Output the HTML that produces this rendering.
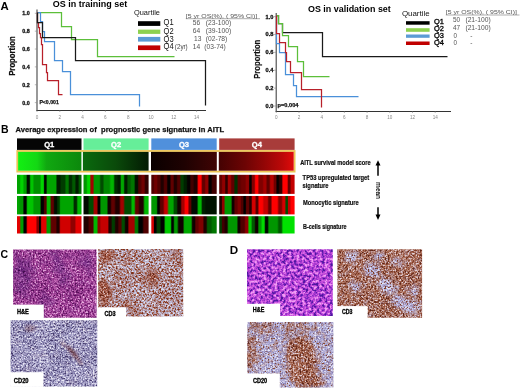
<!DOCTYPE html>
<html><head><meta charset="utf-8"><style>
html,body{margin:0;padding:0;background:#fff;width:520px;height:388px;overflow:hidden}
svg{display:block;font-family:'Liberation Sans', sans-serif;will-change:transform}
</style></head><body>
<svg width="520" height="388" viewBox="0 0 520 388">
<rect width="520" height="388" fill="#fff"/>
<text x="0.6" y="9.5" font-size="11.6" font-weight="bold" fill="#000" text-anchor="start" textLength="8.2" lengthAdjust="spacingAndGlyphs" >A</text>
<text x="52.8" y="6.6" font-size="9" font-weight="bold" fill="#000" text-anchor="start" textLength="74.4" lengthAdjust="spacingAndGlyphs" >OS in training set</text>
<text x="308" y="11.9" font-size="9" font-weight="bold" fill="#000" text-anchor="start" textLength="82.8" lengthAdjust="spacingAndGlyphs" >OS in validation set</text>
<line x1="37" y1="9.5" x2="37" y2="110.9" stroke="#444" stroke-width="1.1"/>
<line x1="36.5" y1="110.5" x2="206" y2="110.5" stroke="#333" stroke-width="1.1"/>
<text x="22.3" y="15.3" font-size="5.8" font-weight="bold" fill="#111" text-anchor="start" textLength="7.5" lengthAdjust="spacingAndGlyphs" stroke="#111" stroke-width="0.3">1.0</text>
<line x1="34.8" y1="13.30" x2="37" y2="13.30" stroke="#888" stroke-width="0.6"/>
<text x="22.3" y="33.16" font-size="5.8" font-weight="bold" fill="#111" text-anchor="start" textLength="7.5" lengthAdjust="spacingAndGlyphs" stroke="#111" stroke-width="0.3">0.8</text>
<line x1="34.8" y1="31.16" x2="37" y2="31.16" stroke="#888" stroke-width="0.6"/>
<text x="22.3" y="51.019999999999996" font-size="5.8" font-weight="bold" fill="#111" text-anchor="start" textLength="7.5" lengthAdjust="spacingAndGlyphs" stroke="#111" stroke-width="0.3">0.6</text>
<line x1="34.8" y1="49.02" x2="37" y2="49.02" stroke="#888" stroke-width="0.6"/>
<text x="22.3" y="68.88" font-size="5.8" font-weight="bold" fill="#111" text-anchor="start" textLength="7.5" lengthAdjust="spacingAndGlyphs" stroke="#111" stroke-width="0.3">0.4</text>
<line x1="34.8" y1="66.88" x2="37" y2="66.88" stroke="#888" stroke-width="0.6"/>
<text x="22.3" y="86.74" font-size="5.8" font-weight="bold" fill="#111" text-anchor="start" textLength="7.5" lengthAdjust="spacingAndGlyphs" stroke="#111" stroke-width="0.3">0.2</text>
<line x1="34.8" y1="84.74" x2="37" y2="84.74" stroke="#888" stroke-width="0.6"/>
<text x="22.3" y="104.6" font-size="5.8" font-weight="bold" fill="#111" text-anchor="start" textLength="7.5" lengthAdjust="spacingAndGlyphs" stroke="#111" stroke-width="0.3">0.0</text>
<line x1="34.8" y1="102.60" x2="37" y2="102.60" stroke="#888" stroke-width="0.6"/>
<text x="37.0" y="118.6" font-size="4.6" font-weight="normal" fill="#888" text-anchor="middle" >0</text>
<line x1="37.00" y1="110.4" x2="37.00" y2="112" stroke="#888" stroke-width="0.6"/>
<text x="59.8" y="118.6" font-size="4.6" font-weight="normal" fill="#888" text-anchor="middle" >2</text>
<line x1="59.80" y1="110.4" x2="59.80" y2="112" stroke="#888" stroke-width="0.6"/>
<text x="82.6" y="118.6" font-size="4.6" font-weight="normal" fill="#888" text-anchor="middle" >4</text>
<line x1="82.60" y1="110.4" x2="82.60" y2="112" stroke="#888" stroke-width="0.6"/>
<text x="105.4" y="118.6" font-size="4.6" font-weight="normal" fill="#888" text-anchor="middle" >6</text>
<line x1="105.40" y1="110.4" x2="105.40" y2="112" stroke="#888" stroke-width="0.6"/>
<text x="128.2" y="118.6" font-size="4.6" font-weight="normal" fill="#888" text-anchor="middle" >8</text>
<line x1="128.20" y1="110.4" x2="128.20" y2="112" stroke="#888" stroke-width="0.6"/>
<text x="151.0" y="118.6" font-size="4.6" font-weight="normal" fill="#888" text-anchor="middle" >10</text>
<line x1="151.00" y1="110.4" x2="151.00" y2="112" stroke="#888" stroke-width="0.6"/>
<text x="173.8" y="118.6" font-size="4.6" font-weight="normal" fill="#888" text-anchor="middle" >12</text>
<line x1="173.80" y1="110.4" x2="173.80" y2="112" stroke="#888" stroke-width="0.6"/>
<text x="196.6" y="118.6" font-size="4.6" font-weight="normal" fill="#888" text-anchor="middle" >14</text>
<line x1="196.60" y1="110.4" x2="196.60" y2="112" stroke="#888" stroke-width="0.6"/>
<text x="0" y="0" font-size="8.6" font-weight="bold" fill="#111" stroke="#111" stroke-width="0.2" textLength="39.6" lengthAdjust="spacingAndGlyphs" transform="translate(15.3,75.8) rotate(-90)">Proportion</text>
<text x="0" y="0" font-size="8.6" font-weight="bold" fill="#111" stroke="#111" stroke-width="0.2" textLength="39.1" lengthAdjust="spacingAndGlyphs" transform="translate(260.4,78.8) rotate(-90)">Proportion</text>
<polyline points="37.5,12.5 61.5,12.5 61.5,26.5 71.5,26.5 71.5,39.5 97.5,39.5 97.5,56.5 174.5,56.5" fill="none" stroke="#5cbf3a" stroke-width="1.25" stroke-linejoin="miter"/>
<polyline points="37.5,12.5 40.5,12.5 40.5,21.5 42.5,21.5 42.5,31.5 44.5,31.5 44.5,41.5 54.5,41.5 54.5,60.5 62.5,60.5 62.5,71.5 70.5,71.5 70.5,94.5 139.5,94.5 139.5,106.5" fill="none" stroke="#4a90d9" stroke-width="1.25" stroke-linejoin="miter"/>
<polyline points="37.5,12.5 37.5,22.5 38.5,22.5 38.5,27.5 39.5,27.5 39.5,33.5 40.5,33.5 40.5,37.5 41.5,37.5 41.5,44.5 42.5,44.5 42.5,64.5 46.5,64.5 46.5,72.5 47.5,72.5 47.5,80.5 58.5,80.5 58.5,94.5 62.5,94.5" fill="none" stroke="#b8202a" stroke-width="1.25" stroke-linejoin="miter"/>
<polyline points="37.5,12.5 37.5,12.5 37.5,22.5 42.5,22.5 42.5,37.5 75.5,37.5 75.5,60.5 205.5,60.5 205.5,105.5" fill="none" stroke="#1a1a1a" stroke-width="1.25" stroke-linejoin="miter"/>
<text x="39.4" y="103.7" font-size="5.6" font-weight="bold" fill="#111" text-anchor="start" textLength="19.4" lengthAdjust="spacingAndGlyphs" stroke="#111" stroke-width="0.25">P&lt;0.001</text>
<text x="134" y="14.7" font-size="7.2" font-weight="normal" fill="#111" text-anchor="start" textLength="25.9" lengthAdjust="spacingAndGlyphs" >Quartile</text>
<rect x="138" y="21.2" width="22.3" height="4.7" fill="#000"/>
<rect x="138" y="29.6" width="22.3" height="4.3" fill="#8ed14f"/>
<rect x="138" y="36.9" width="22.3" height="4.7" fill="#5b9bd5"/>
<rect x="138" y="45.4" width="22.3" height="4.7" fill="#c00000"/>
<text x="163.6" y="25.4" font-size="8.4" font-weight="normal" fill="#111" text-anchor="start" textLength="10.1" lengthAdjust="spacingAndGlyphs" >Q1</text>
<text x="163.6" y="33.5" font-size="8.4" font-weight="normal" fill="#111" text-anchor="start" textLength="10.1" lengthAdjust="spacingAndGlyphs" >Q2</text>
<text x="163.6" y="41.5" font-size="8.4" font-weight="normal" fill="#111" text-anchor="start" textLength="10.1" lengthAdjust="spacingAndGlyphs" >Q3</text>
<text x="163.6" y="49.4" font-size="8.4" font-weight="normal" fill="#111" text-anchor="start" textLength="10.1" lengthAdjust="spacingAndGlyphs" >Q4</text>
<text x="174.8" y="49.4" font-size="7.6" font-weight="normal" fill="#444" text-anchor="start" textLength="12.9" lengthAdjust="spacingAndGlyphs" >(2yr)</text>
<text x="185.8" y="17.6" font-size="6.2" font-weight="normal" fill="#555" text-anchor="start" textLength="71.5" lengthAdjust="spacingAndGlyphs" >[5 yr  OS(%),  ( 95% CI)]</text>
<line x1="185.8" y1="18.7" x2="260" y2="18.7" stroke="#777" stroke-width="0.6"/>
<text x="192.7" y="25.4" font-size="6.3" font-weight="normal" fill="#555" text-anchor="start" textLength="7.4" lengthAdjust="spacingAndGlyphs" >56</text>
<text x="205.8" y="25.4" font-size="6.3" font-weight="normal" fill="#555" text-anchor="start" textLength="25.4" lengthAdjust="spacingAndGlyphs" >(23-100)</text>
<text x="192.7" y="33.4" font-size="6.3" font-weight="normal" fill="#555" text-anchor="start" textLength="7.4" lengthAdjust="spacingAndGlyphs" >64</text>
<text x="205.8" y="33.4" font-size="6.3" font-weight="normal" fill="#555" text-anchor="start" textLength="25.4" lengthAdjust="spacingAndGlyphs" >(39-100)</text>
<text x="194.0" y="41.2" font-size="6.3" font-weight="normal" fill="#555" text-anchor="start" textLength="7.4" lengthAdjust="spacingAndGlyphs" >13</text>
<text x="205.8" y="41.2" font-size="6.3" font-weight="normal" fill="#555" text-anchor="start" textLength="21.5" lengthAdjust="spacingAndGlyphs" >(02-78)</text>
<text x="192.7" y="48.9" font-size="6.3" font-weight="normal" fill="#555" text-anchor="start" textLength="7.4" lengthAdjust="spacingAndGlyphs" >14</text>
<text x="204.3" y="48.9" font-size="6.3" font-weight="normal" fill="#555" text-anchor="start" textLength="21.5" lengthAdjust="spacingAndGlyphs" >(03-74)</text>
<line x1="276.2" y1="13.1" x2="276.2" y2="111.9" stroke="#444" stroke-width="1.1"/>
<line x1="275.7" y1="111.5" x2="451" y2="111.5" stroke="#333" stroke-width="1.1"/>
<text x="265.6" y="18.6" font-size="5.8" font-weight="bold" fill="#111" text-anchor="start" textLength="7.9" lengthAdjust="spacingAndGlyphs" stroke="#111" stroke-width="0.3">1.0</text>
<line x1="274" y1="16.60" x2="276.2" y2="16.60" stroke="#888" stroke-width="0.6"/>
<text x="265.6" y="36.480000000000004" font-size="5.8" font-weight="bold" fill="#111" text-anchor="start" textLength="7.9" lengthAdjust="spacingAndGlyphs" stroke="#111" stroke-width="0.3">0.8</text>
<line x1="274" y1="34.48" x2="276.2" y2="34.48" stroke="#888" stroke-width="0.6"/>
<text x="265.6" y="54.36" font-size="5.8" font-weight="bold" fill="#111" text-anchor="start" textLength="7.9" lengthAdjust="spacingAndGlyphs" stroke="#111" stroke-width="0.3">0.6</text>
<line x1="274" y1="52.36" x2="276.2" y2="52.36" stroke="#888" stroke-width="0.6"/>
<text x="265.6" y="72.24000000000001" font-size="5.8" font-weight="bold" fill="#111" text-anchor="start" textLength="7.9" lengthAdjust="spacingAndGlyphs" stroke="#111" stroke-width="0.3">0.4</text>
<line x1="274" y1="70.24" x2="276.2" y2="70.24" stroke="#888" stroke-width="0.6"/>
<text x="265.6" y="90.12" font-size="5.8" font-weight="bold" fill="#111" text-anchor="start" textLength="7.9" lengthAdjust="spacingAndGlyphs" stroke="#111" stroke-width="0.3">0.2</text>
<line x1="274" y1="88.12" x2="276.2" y2="88.12" stroke="#888" stroke-width="0.6"/>
<text x="265.6" y="108.0" font-size="5.8" font-weight="bold" fill="#111" text-anchor="start" textLength="7.9" lengthAdjust="spacingAndGlyphs" stroke="#111" stroke-width="0.3">0.0</text>
<line x1="274" y1="106.00" x2="276.2" y2="106.00" stroke="#888" stroke-width="0.6"/>
<text x="276.3" y="119" font-size="4.6" font-weight="normal" fill="#888" text-anchor="middle" >0</text>
<line x1="276.30" y1="111.4" x2="276.30" y2="113" stroke="#888" stroke-width="0.6"/>
<text x="299.0" y="119" font-size="4.6" font-weight="normal" fill="#888" text-anchor="middle" >2</text>
<line x1="299.00" y1="111.4" x2="299.00" y2="113" stroke="#888" stroke-width="0.6"/>
<text x="321.7" y="119" font-size="4.6" font-weight="normal" fill="#888" text-anchor="middle" >4</text>
<line x1="321.70" y1="111.4" x2="321.70" y2="113" stroke="#888" stroke-width="0.6"/>
<text x="344.4" y="119" font-size="4.6" font-weight="normal" fill="#888" text-anchor="middle" >6</text>
<line x1="344.40" y1="111.4" x2="344.40" y2="113" stroke="#888" stroke-width="0.6"/>
<text x="367.1" y="119" font-size="4.6" font-weight="normal" fill="#888" text-anchor="middle" >8</text>
<line x1="367.10" y1="111.4" x2="367.10" y2="113" stroke="#888" stroke-width="0.6"/>
<text x="389.8" y="119" font-size="4.6" font-weight="normal" fill="#888" text-anchor="middle" >10</text>
<line x1="389.80" y1="111.4" x2="389.80" y2="113" stroke="#888" stroke-width="0.6"/>
<text x="412.5" y="119" font-size="4.6" font-weight="normal" fill="#888" text-anchor="middle" >12</text>
<line x1="412.50" y1="111.4" x2="412.50" y2="113" stroke="#888" stroke-width="0.6"/>
<text x="435.20000000000005" y="119" font-size="4.6" font-weight="normal" fill="#888" text-anchor="middle" >14</text>
<line x1="435.20" y1="111.4" x2="435.20" y2="113" stroke="#888" stroke-width="0.6"/>
<polyline points="276.5,15.5 278.5,15.5 278.5,23.5 282.5,23.5 282.5,32.5 322.5,32.5 322.5,56.5 447.5,56.5" fill="none" stroke="#1a1a1a" stroke-width="1.25" stroke-linejoin="miter"/>
<polyline points="276.5,15.5 276.5,43.5 279.5,43.5 279.5,52.5 285.5,52.5 285.5,74.5 293.5,74.5 293.5,85.5 296.5,85.5 296.5,96.5 358.5,96.5" fill="none" stroke="#4a90d9" stroke-width="1.25" stroke-linejoin="miter"/>
<polyline points="276.5,15.5 278.5,15.5 278.5,23.5 282.5,23.5 282.5,35.5 288.5,35.5 288.5,46.5 297.5,46.5 297.5,61.5 303.5,61.5 303.5,76.5 329.5,76.5" fill="none" stroke="#5cbf3a" stroke-width="1.25" stroke-linejoin="miter"/>
<polyline points="276.5,15.5 276.5,33.5 279.5,33.5 279.5,42.5 285.5,42.5 285.5,52.5 286.5,52.5 286.5,61.5 290.5,61.5 290.5,72.5 301.5,72.5 301.5,89.5 321.5,89.5 321.5,107.5" fill="none" stroke="#b8202a" stroke-width="1.25" stroke-linejoin="miter"/>
<text x="277.6" y="107.3" font-size="5.6" font-weight="bold" fill="#111" text-anchor="start" textLength="20.8" lengthAdjust="spacingAndGlyphs" stroke="#111" stroke-width="0.25">p=0.004</text>
<text x="401.9" y="15.5" font-size="7.6" font-weight="normal" fill="#111" text-anchor="start" textLength="27.7" lengthAdjust="spacingAndGlyphs" >Quartile</text>
<rect x="406" y="21.2" width="23.6" height="3.5" fill="#000"/>
<rect x="406" y="28.2" width="23.6" height="3.6" fill="#8ed14f"/>
<rect x="406" y="34.5" width="23.6" height="3.3" fill="#5b9bd5"/>
<rect x="406" y="41.5" width="23.6" height="3.5" fill="#c00000"/>
<text x="434.0" y="24.400000000000002" font-size="7.0" font-weight="normal" fill="#000" text-anchor="start" textLength="9.9" lengthAdjust="spacingAndGlyphs" stroke="#000" stroke-width="0.3">Q1</text>
<text x="434.0" y="31.400000000000002" font-size="7.0" font-weight="normal" fill="#000" text-anchor="start" textLength="9.9" lengthAdjust="spacingAndGlyphs" stroke="#000" stroke-width="0.3">Q2</text>
<text x="434.0" y="38.199999999999996" font-size="7.0" font-weight="normal" fill="#000" text-anchor="start" textLength="9.9" lengthAdjust="spacingAndGlyphs" stroke="#000" stroke-width="0.3">Q3</text>
<text x="434.0" y="44.699999999999996" font-size="7.0" font-weight="normal" fill="#000" text-anchor="start" textLength="9.9" lengthAdjust="spacingAndGlyphs" stroke="#000" stroke-width="0.3">Q4</text>
<text x="445.8" y="13.9" font-size="6.2" font-weight="normal" fill="#555" text-anchor="start" textLength="71.2" lengthAdjust="spacingAndGlyphs" >[5 yr  OS(%),  ( 95% CI)]</text>
<line x1="445.8" y1="15.0" x2="519.5" y2="15.0" stroke="#777" stroke-width="0.6"/>
<text x="453.0" y="21.7" font-size="6.3" font-weight="normal" fill="#555" text-anchor="start" textLength="7.2" lengthAdjust="spacingAndGlyphs" >50</text>
<text x="465.4" y="21.7" font-size="6.3" font-weight="normal" fill="#555" text-anchor="start" textLength="25.4" lengthAdjust="spacingAndGlyphs" >(21-100)</text>
<text x="453.0" y="29.9" font-size="6.3" font-weight="normal" fill="#555" text-anchor="start" textLength="7.2" lengthAdjust="spacingAndGlyphs" >47</text>
<text x="465.4" y="29.9" font-size="6.3" font-weight="normal" fill="#555" text-anchor="start" textLength="25.4" lengthAdjust="spacingAndGlyphs" >(21-100)</text>
<text x="453.5" y="37.6" font-size="6.3" font-weight="normal" fill="#555" text-anchor="start" textLength="3.5" lengthAdjust="spacingAndGlyphs" >0</text>
<text x="470.2" y="37.6" font-size="6.3" font-weight="normal" fill="#555" text-anchor="start" textLength="2.2" lengthAdjust="spacingAndGlyphs" >-</text>
<text x="453.5" y="45.0" font-size="6.3" font-weight="normal" fill="#555" text-anchor="start" textLength="3.5" lengthAdjust="spacingAndGlyphs" >0</text>
<text x="470.2" y="45.0" font-size="6.3" font-weight="normal" fill="#555" text-anchor="start" textLength="2.2" lengthAdjust="spacingAndGlyphs" >-</text>
<text x="0.9" y="133.4" font-size="10.6" font-weight="bold" fill="#000" text-anchor="start" textLength="7.6" lengthAdjust="spacingAndGlyphs" >B</text>
<text x="15.5" y="132.1" font-size="7.9" font-weight="bold" fill="#111" text-anchor="start" textLength="208.6" lengthAdjust="spacingAndGlyphs" stroke="#111" stroke-width="0.25">Average expression of  prognostic gene signature in AITL</text>
<rect x="17.0" y="138.4" width="64.5" height="11.5" fill="#050505"/>
<text x="49.25" y="147.2" font-size="7.6" font-weight="bold" fill="#fff" text-anchor="middle" stroke="#fff" stroke-width="0.3">Q1</text>
<rect x="83.5" y="138.4" width="65.1" height="11.5" fill="#66ee99"/>
<text x="116.05" y="147.2" font-size="7.6" font-weight="bold" fill="#fff" text-anchor="middle" stroke="#fff" stroke-width="0.3">Q2</text>
<rect x="151.3" y="138.4" width="65.4" height="11.5" fill="#5090dc"/>
<text x="184.0" y="147.2" font-size="7.6" font-weight="bold" fill="#fff" text-anchor="middle" stroke="#fff" stroke-width="0.3">Q3</text>
<rect x="219.2" y="138.4" width="75.4" height="11.5" fill="#a83c3a"/>
<text x="256.9" y="147.2" font-size="7.6" font-weight="bold" fill="#fff" text-anchor="middle" stroke="#fff" stroke-width="0.3">Q4</text>
<defs>
<linearGradient id="g1" x1="0" x2="1"><stop offset="0" stop-color="#12f012"/><stop offset="0.3" stop-color="#14d814"/><stop offset="0.45" stop-color="#10a810"/><stop offset="1" stop-color="#0c880c"/></linearGradient>
<linearGradient id="g2" x1="0" x2="1"><stop offset="0" stop-color="#0a6a0e"/><stop offset="0.5" stop-color="#0a4a0a"/><stop offset="1" stop-color="#031a03"/></linearGradient>
<linearGradient id="g3" x1="0" x2="1"><stop offset="0" stop-color="#0a0000"/><stop offset="0.5" stop-color="#1e0202"/><stop offset="1" stop-color="#400404"/></linearGradient>
<linearGradient id="g4" x1="0" x2="1"><stop offset="0" stop-color="#440202"/><stop offset="0.35" stop-color="#6c0404"/><stop offset="0.6" stop-color="#920606"/><stop offset="0.85" stop-color="#bc0808"/><stop offset="1" stop-color="#e00a0a"/></linearGradient>
</defs>
<rect x="16.4" y="150.1" width="279.1" height="22.4" fill="#ecc452"/>
<rect x="18.1" y="151.9" width="275.6" height="18.8" fill="#fff"/>
<rect x="18.1" y="151.9" width="63.3" height="18.8" fill="url(#g1)"/>
<rect x="82.9" y="151.9" width="65.7" height="18.8" fill="url(#g2)"/>
<rect x="151.0" y="151.9" width="65.8" height="18.8" fill="url(#g3)"/>
<rect x="218.8" y="151.9" width="74.9" height="18.8" fill="url(#g4)"/>
<defs><linearGradient id="hs1" x1="0" x2="1"><stop offset="0.0107" stop-color="#00a300"/><stop offset="0.0378" stop-color="#00a300"/><stop offset="0.0597" stop-color="#00d300"/><stop offset="0.0884" stop-color="#00d300"/><stop offset="0.1109" stop-color="#009d00"/><stop offset="0.1395" stop-color="#009d00"/><stop offset="0.1620" stop-color="#000e00"/><stop offset="0.1907" stop-color="#000e00"/><stop offset="0.2132" stop-color="#00c400"/><stop offset="0.2419" stop-color="#00c400"/><stop offset="0.2671" stop-color="#008f00"/><stop offset="0.3543" stop-color="#008f00"/><stop offset="0.3795" stop-color="#00d600"/><stop offset="0.4082" stop-color="#00d600"/><stop offset="0.4279" stop-color="#000700"/><stop offset="0.4494" stop-color="#000700"/><stop offset="0.4718" stop-color="#00a400"/><stop offset="0.5973" stop-color="#00a400"/><stop offset="0.6253" stop-color="#001c00"/><stop offset="0.6613" stop-color="#001c00"/><stop offset="0.6892" stop-color="#003c00"/><stop offset="0.7381" stop-color="#003c00"/><stop offset="0.7633" stop-color="#007600"/><stop offset="0.7919" stop-color="#007600"/><stop offset="0.8144" stop-color="#002b00"/><stop offset="0.8431" stop-color="#002b00"/><stop offset="0.8656" stop-color="#005900"/><stop offset="0.8943" stop-color="#005900"/><stop offset="0.9168" stop-color="#001c00"/><stop offset="0.9454" stop-color="#001c00"/><stop offset="0.9662" stop-color="#005900"/><stop offset="0.9905" stop-color="#005900"/></linearGradient></defs>
<rect x="17.0" y="174.8" width="64.50" height="19.1" fill="url(#hs1)"/>
<defs><linearGradient id="hs2" x1="0" x2="1"><stop offset="0.0117" stop-color="#009600"/><stop offset="0.0414" stop-color="#009600"/><stop offset="0.0642" stop-color="#00d600"/><stop offset="0.0926" stop-color="#00d600"/><stop offset="0.1149" stop-color="#a40000"/><stop offset="0.1433" stop-color="#a40000"/><stop offset="0.1683" stop-color="#009600"/><stop offset="0.2421" stop-color="#009600"/><stop offset="0.2671" stop-color="#004b00"/><stop offset="0.2955" stop-color="#004b00"/><stop offset="0.3205" stop-color="#008600"/><stop offset="0.3943" stop-color="#008600"/><stop offset="0.4219" stop-color="#00b600"/><stop offset="0.4577" stop-color="#00b600"/><stop offset="0.4827" stop-color="#002e00"/><stop offset="0.5111" stop-color="#002e00"/><stop offset="0.5334" stop-color="#001c00"/><stop offset="0.5618" stop-color="#001c00"/><stop offset="0.5841" stop-color="#00a800"/><stop offset="0.6125" stop-color="#00a800"/><stop offset="0.6348" stop-color="#001c00"/><stop offset="0.6632" stop-color="#001c00"/><stop offset="0.6855" stop-color="#005900"/><stop offset="0.7139" stop-color="#005900"/><stop offset="0.7389" stop-color="#007600"/><stop offset="0.7747" stop-color="#007600"/><stop offset="0.7997" stop-color="#001100"/><stop offset="0.8281" stop-color="#001100"/><stop offset="0.8504" stop-color="#500000"/><stop offset="0.8788" stop-color="#500000"/><stop offset="0.9011" stop-color="#700000"/><stop offset="0.9295" stop-color="#700000"/><stop offset="0.9535" stop-color="#300000"/><stop offset="0.9862" stop-color="#300000"/></linearGradient></defs>
<rect x="83.5" y="174.8" width="65.10" height="19.1" fill="url(#hs2)"/>
<defs><linearGradient id="hs3" x1="0" x2="1"><stop offset="0.0091" stop-color="#500000"/><stop offset="0.0317" stop-color="#500000"/><stop offset="0.0517" stop-color="#700000"/><stop offset="0.0799" stop-color="#700000"/><stop offset="0.1022" stop-color="#500000"/><stop offset="0.1304" stop-color="#500000"/><stop offset="0.1526" stop-color="#200000"/><stop offset="0.1809" stop-color="#200000"/><stop offset="0.2031" stop-color="#500000"/><stop offset="0.2314" stop-color="#500000"/><stop offset="0.2536" stop-color="#050000"/><stop offset="0.2819" stop-color="#050000"/><stop offset="0.3041" stop-color="#600000"/><stop offset="0.3324" stop-color="#600000"/><stop offset="0.3546" stop-color="#200000"/><stop offset="0.3829" stop-color="#200000"/><stop offset="0.4051" stop-color="#500000"/><stop offset="0.4334" stop-color="#500000"/><stop offset="0.4556" stop-color="#003c00"/><stop offset="0.4839" stop-color="#003c00"/><stop offset="0.5061" stop-color="#002000"/><stop offset="0.5343" stop-color="#002000"/><stop offset="0.5566" stop-color="#050000"/><stop offset="0.5848" stop-color="#050000"/><stop offset="0.6070" stop-color="#400000"/><stop offset="0.6353" stop-color="#400000"/><stop offset="0.6602" stop-color="#200000"/><stop offset="0.6958" stop-color="#200000"/><stop offset="0.7233" stop-color="#ff0000"/><stop offset="0.7589" stop-color="#ff0000"/><stop offset="0.7838" stop-color="#600000"/><stop offset="0.8120" stop-color="#600000"/><stop offset="0.8342" stop-color="#900000"/><stop offset="0.8625" stop-color="#900000"/><stop offset="0.8847" stop-color="#050000"/><stop offset="0.9130" stop-color="#050000"/><stop offset="0.9379" stop-color="#400000"/><stop offset="0.9861" stop-color="#400000"/></linearGradient></defs>
<rect x="151.3" y="174.8" width="65.40" height="19.1" fill="url(#hs3)"/>
<defs><linearGradient id="hs4" x1="0" x2="1"><stop offset="0.0092" stop-color="#600000"/><stop offset="0.0288" stop-color="#600000"/><stop offset="0.0461" stop-color="#900000"/><stop offset="0.0706" stop-color="#900000"/><stop offset="0.0875" stop-color="#300000"/><stop offset="0.1059" stop-color="#300000"/><stop offset="0.1227" stop-color="#a00000"/><stop offset="0.1472" stop-color="#a00000"/><stop offset="0.1665" stop-color="#600000"/><stop offset="0.1910" stop-color="#600000"/><stop offset="0.2102" stop-color="#003100"/><stop offset="0.2348" stop-color="#003100"/><stop offset="0.2540" stop-color="#600000"/><stop offset="0.2785" stop-color="#600000"/><stop offset="0.3001" stop-color="#700000"/><stop offset="0.3419" stop-color="#700000"/><stop offset="0.3634" stop-color="#900000"/><stop offset="0.3880" stop-color="#900000"/><stop offset="0.4048" stop-color="#050000"/><stop offset="0.4232" stop-color="#050000"/><stop offset="0.4400" stop-color="#800000"/><stop offset="0.4646" stop-color="#800000"/><stop offset="0.4838" stop-color="#ff0000"/><stop offset="0.5083" stop-color="#ff0000"/><stop offset="0.5299" stop-color="#800000"/><stop offset="0.5717" stop-color="#800000"/><stop offset="0.5932" stop-color="#a40000"/><stop offset="0.6178" stop-color="#a40000"/><stop offset="0.6370" stop-color="#600000"/><stop offset="0.6615" stop-color="#600000"/><stop offset="0.6831" stop-color="#b40000"/><stop offset="0.7139" stop-color="#b40000"/><stop offset="0.7331" stop-color="#700000"/><stop offset="0.7515" stop-color="#700000"/><stop offset="0.7659" stop-color="#050000"/><stop offset="0.7843" stop-color="#050000"/><stop offset="0.8012" stop-color="#300000"/><stop offset="0.8257" stop-color="#300000"/><stop offset="0.8472" stop-color="#ff0000"/><stop offset="0.9000" stop-color="#ff0000"/><stop offset="0.9191" stop-color="#600000"/><stop offset="0.9375" stop-color="#600000"/><stop offset="0.9567" stop-color="#c40000"/><stop offset="0.9875" stop-color="#c40000"/></linearGradient></defs>
<rect x="219.2" y="174.8" width="75.40" height="19.1" fill="url(#hs4)"/>
<defs><linearGradient id="hs5" x1="0" x2="1"><stop offset="0.0078" stop-color="#00a400"/><stop offset="0.0278" stop-color="#00a400"/><stop offset="0.0496" stop-color="#009400"/><stop offset="0.0857" stop-color="#009400"/><stop offset="0.1109" stop-color="#000000"/><stop offset="0.1395" stop-color="#000000"/><stop offset="0.1647" stop-color="#00c400"/><stop offset="0.2392" stop-color="#00c400"/><stop offset="0.2671" stop-color="#009600"/><stop offset="0.3543" stop-color="#009600"/><stop offset="0.3795" stop-color="#000000"/><stop offset="0.4082" stop-color="#000000"/><stop offset="0.4279" stop-color="#500000"/><stop offset="0.4494" stop-color="#500000"/><stop offset="0.4718" stop-color="#00b600"/><stop offset="0.5078" stop-color="#00b600"/><stop offset="0.5330" stop-color="#600000"/><stop offset="0.5617" stop-color="#600000"/><stop offset="0.5842" stop-color="#001100"/><stop offset="0.6128" stop-color="#001100"/><stop offset="0.6325" stop-color="#003c00"/><stop offset="0.6540" stop-color="#003c00"/><stop offset="0.6764" stop-color="#00a400"/><stop offset="0.8660" stop-color="#00a400"/><stop offset="0.8912" stop-color="#002b00"/><stop offset="0.9198" stop-color="#002b00"/><stop offset="0.9451" stop-color="#00b600"/><stop offset="0.9860" stop-color="#00b600"/></linearGradient></defs>
<rect x="17.0" y="196.0" width="64.50" height="18.4" fill="url(#hs5)"/>
<defs><linearGradient id="hs6" x1="0" x2="1"><stop offset="0.0138" stop-color="#000b00"/><stop offset="0.0646" stop-color="#000b00"/><stop offset="0.0922" stop-color="#004b00"/><stop offset="0.1407" stop-color="#004b00"/><stop offset="0.1683" stop-color="#a40000"/><stop offset="0.2041" stop-color="#a40000"/><stop offset="0.2263" stop-color="#000000"/><stop offset="0.2476" stop-color="#000000"/><stop offset="0.2698" stop-color="#009600"/><stop offset="0.3562" stop-color="#009600"/><stop offset="0.3812" stop-color="#100000"/><stop offset="0.4096" stop-color="#100000"/><stop offset="0.4346" stop-color="#600000"/><stop offset="0.4703" stop-color="#600000"/><stop offset="0.4980" stop-color="#200000"/><stop offset="0.5464" stop-color="#200000"/><stop offset="0.5741" stop-color="#a40000"/><stop offset="0.6098" stop-color="#a40000"/><stop offset="0.6375" stop-color="#004b00"/><stop offset="0.7240" stop-color="#004b00"/><stop offset="0.7489" stop-color="#00b600"/><stop offset="0.7773" stop-color="#00b600"/><stop offset="0.8023" stop-color="#600000"/><stop offset="0.8381" stop-color="#600000"/><stop offset="0.8657" stop-color="#200000"/><stop offset="0.9142" stop-color="#200000"/><stop offset="0.9418" stop-color="#00b600"/><stop offset="0.9852" stop-color="#00b600"/></linearGradient></defs>
<rect x="83.5" y="196.0" width="65.10" height="18.4" fill="url(#hs6)"/>
<defs><linearGradient id="hs7" x1="0" x2="1"><stop offset="0.0139" stop-color="#009600"/><stop offset="0.0773" stop-color="#009600"/><stop offset="0.0994" stop-color="#000000"/><stop offset="0.1206" stop-color="#000000"/><stop offset="0.1427" stop-color="#600000"/><stop offset="0.1783" stop-color="#600000"/><stop offset="0.2058" stop-color="#c40000"/><stop offset="0.2414" stop-color="#c40000"/><stop offset="0.2689" stop-color="#00a400"/><stop offset="0.3297" stop-color="#00a400"/><stop offset="0.3546" stop-color="#004b00"/><stop offset="0.3829" stop-color="#004b00"/><stop offset="0.4077" stop-color="#100000"/><stop offset="0.4433" stop-color="#100000"/><stop offset="0.4682" stop-color="#a40000"/><stop offset="0.4965" stop-color="#a40000"/><stop offset="0.5213" stop-color="#ff0000"/><stop offset="0.5569" stop-color="#ff0000"/><stop offset="0.5790" stop-color="#600000"/><stop offset="0.6002" stop-color="#600000"/><stop offset="0.6223" stop-color="#000b00"/><stop offset="0.6958" stop-color="#000b00"/><stop offset="0.7233" stop-color="#00b600"/><stop offset="0.7589" stop-color="#00b600"/><stop offset="0.7838" stop-color="#002000"/><stop offset="0.8120" stop-color="#002000"/><stop offset="0.8369" stop-color="#001300"/><stop offset="0.9861" stop-color="#001300"/></linearGradient></defs>
<rect x="151.3" y="196.0" width="65.40" height="18.4" fill="url(#hs7)"/>
<defs><linearGradient id="hs8" x1="0" x2="1"><stop offset="0.0092" stop-color="#200000"/><stop offset="0.0288" stop-color="#200000"/><stop offset="0.0437" stop-color="#900000"/><stop offset="0.0621" stop-color="#900000"/><stop offset="0.0812" stop-color="#009600"/><stop offset="0.1559" stop-color="#009600"/><stop offset="0.1750" stop-color="#100000"/><stop offset="0.1934" stop-color="#100000"/><stop offset="0.2102" stop-color="#600000"/><stop offset="0.2348" stop-color="#600000"/><stop offset="0.2540" stop-color="#800000"/><stop offset="0.2785" stop-color="#800000"/><stop offset="0.2954" stop-color="#500000"/><stop offset="0.3138" stop-color="#500000"/><stop offset="0.3282" stop-color="#000000"/><stop offset="0.3466" stop-color="#000000"/><stop offset="0.3634" stop-color="#600000"/><stop offset="0.3880" stop-color="#600000"/><stop offset="0.4048" stop-color="#200000"/><stop offset="0.4232" stop-color="#200000"/><stop offset="0.4424" stop-color="#d40000"/><stop offset="0.4732" stop-color="#d40000"/><stop offset="0.4924" stop-color="#500000"/><stop offset="0.5107" stop-color="#500000"/><stop offset="0.5299" stop-color="#ff0000"/><stop offset="0.5717" stop-color="#ff0000"/><stop offset="0.5956" stop-color="#c40000"/><stop offset="0.6373" stop-color="#c40000"/><stop offset="0.6589" stop-color="#600000"/><stop offset="0.6834" stop-color="#600000"/><stop offset="0.7050" stop-color="#ff0000"/><stop offset="0.7686" stop-color="#ff0000"/><stop offset="0.7925" stop-color="#800000"/><stop offset="0.8234" stop-color="#800000"/><stop offset="0.8449" stop-color="#d40000"/><stop offset="0.8694" stop-color="#d40000"/><stop offset="0.8863" stop-color="#004b00"/><stop offset="0.9047" stop-color="#004b00"/><stop offset="0.9191" stop-color="#c40000"/><stop offset="0.9375" stop-color="#c40000"/><stop offset="0.9567" stop-color="#ff0000"/><stop offset="0.9875" stop-color="#ff0000"/></linearGradient></defs>
<rect x="219.2" y="196.0" width="75.40" height="18.4" fill="url(#hs8)"/>
<defs><linearGradient id="hs9" x1="0" x2="1"><stop offset="0.0107" stop-color="#e40000"/><stop offset="0.0378" stop-color="#e40000"/><stop offset="0.0597" stop-color="#009900"/><stop offset="0.0884" stop-color="#009900"/><stop offset="0.1109" stop-color="#000000"/><stop offset="0.1395" stop-color="#000000"/><stop offset="0.1647" stop-color="#ff0000"/><stop offset="0.2903" stop-color="#ff0000"/><stop offset="0.3127" stop-color="#800000"/><stop offset="0.3342" stop-color="#800000"/><stop offset="0.3483" stop-color="#000000"/><stop offset="0.3626" stop-color="#000000"/><stop offset="0.3822" stop-color="#e00000"/><stop offset="0.4438" stop-color="#e00000"/><stop offset="0.4718" stop-color="#009900"/><stop offset="0.5078" stop-color="#009900"/><stop offset="0.5357" stop-color="#600000"/><stop offset="0.5973" stop-color="#600000"/><stop offset="0.6226" stop-color="#200000"/><stop offset="0.6512" stop-color="#200000"/><stop offset="0.6764" stop-color="#d00000"/><stop offset="0.8148" stop-color="#d00000"/><stop offset="0.8427" stop-color="#900000"/><stop offset="0.8916" stop-color="#900000"/><stop offset="0.9195" stop-color="#e40000"/><stop offset="0.9860" stop-color="#e40000"/></linearGradient></defs>
<rect x="17.0" y="216.2" width="64.50" height="17.3" fill="url(#hs9)"/>
<defs><linearGradient id="hs10" x1="0" x2="1"><stop offset="0.0138" stop-color="#200000"/><stop offset="0.0646" stop-color="#200000"/><stop offset="0.0922" stop-color="#500000"/><stop offset="0.1407" stop-color="#500000"/><stop offset="0.1683" stop-color="#00b600"/><stop offset="0.2041" stop-color="#00b600"/><stop offset="0.2263" stop-color="#900000"/><stop offset="0.2476" stop-color="#900000"/><stop offset="0.2698" stop-color="#c40000"/><stop offset="0.3689" stop-color="#c40000"/><stop offset="0.3939" stop-color="#200000"/><stop offset="0.4223" stop-color="#200000"/><stop offset="0.4446" stop-color="#003c00"/><stop offset="0.4730" stop-color="#003c00"/><stop offset="0.4953" stop-color="#200000"/><stop offset="0.5237" stop-color="#200000"/><stop offset="0.5461" stop-color="#500000"/><stop offset="0.5745" stop-color="#500000"/><stop offset="0.5968" stop-color="#004b00"/><stop offset="0.6252" stop-color="#004b00"/><stop offset="0.6475" stop-color="#100000"/><stop offset="0.6759" stop-color="#100000"/><stop offset="0.7009" stop-color="#a40000"/><stop offset="0.7747" stop-color="#a40000"/><stop offset="0.7997" stop-color="#007600"/><stop offset="0.8281" stop-color="#007600"/><stop offset="0.8530" stop-color="#000000"/><stop offset="0.9015" stop-color="#000000"/><stop offset="0.9291" stop-color="#500000"/><stop offset="0.9852" stop-color="#500000"/></linearGradient></defs>
<rect x="83.5" y="216.2" width="65.10" height="17.3" fill="url(#hs10)"/>
<defs><linearGradient id="hs11" x1="0" x2="1"><stop offset="0.0091" stop-color="#d40000"/><stop offset="0.0317" stop-color="#d40000"/><stop offset="0.0489" stop-color="#000000"/><stop offset="0.0701" stop-color="#000000"/><stop offset="0.0922" stop-color="#003c00"/><stop offset="0.1278" stop-color="#003c00"/><stop offset="0.1553" stop-color="#000000"/><stop offset="0.1909" stop-color="#000000"/><stop offset="0.2184" stop-color="#00c800"/><stop offset="0.2919" stop-color="#00c800"/><stop offset="0.3140" stop-color="#000000"/><stop offset="0.3352" stop-color="#000000"/><stop offset="0.3573" stop-color="#009600"/><stop offset="0.3928" stop-color="#009600"/><stop offset="0.4204" stop-color="#100000"/><stop offset="0.4812" stop-color="#100000"/><stop offset="0.5087" stop-color="#00a800"/><stop offset="0.6074" stop-color="#00a800"/><stop offset="0.6323" stop-color="#100000"/><stop offset="0.6606" stop-color="#100000"/><stop offset="0.6828" stop-color="#600000"/><stop offset="0.7111" stop-color="#600000"/><stop offset="0.7359" stop-color="#800000"/><stop offset="0.7841" stop-color="#800000"/><stop offset="0.8090" stop-color="#200000"/><stop offset="0.8373" stop-color="#200000"/><stop offset="0.8621" stop-color="#005900"/><stop offset="0.9104" stop-color="#005900"/><stop offset="0.9379" stop-color="#007600"/><stop offset="0.9861" stop-color="#007600"/></linearGradient></defs>
<rect x="151.3" y="216.2" width="65.40" height="17.3" fill="url(#hs11)"/>
<defs><linearGradient id="hs12" x1="0" x2="1"><stop offset="0.0092" stop-color="#003c00"/><stop offset="0.0288" stop-color="#003c00"/><stop offset="0.0437" stop-color="#400000"/><stop offset="0.0621" stop-color="#400000"/><stop offset="0.0789" stop-color="#200000"/><stop offset="0.1034" stop-color="#200000"/><stop offset="0.1250" stop-color="#009600"/><stop offset="0.2325" stop-color="#009600"/><stop offset="0.2516" stop-color="#100000"/><stop offset="0.2700" stop-color="#100000"/><stop offset="0.2892" stop-color="#500000"/><stop offset="0.3309" stop-color="#500000"/><stop offset="0.3525" stop-color="#900000"/><stop offset="0.3770" stop-color="#900000"/><stop offset="0.3963" stop-color="#00c800"/><stop offset="0.4208" stop-color="#00c800"/><stop offset="0.4400" stop-color="#005900"/><stop offset="0.4646" stop-color="#005900"/><stop offset="0.4838" stop-color="#100000"/><stop offset="0.5083" stop-color="#100000"/><stop offset="0.5276" stop-color="#009600"/><stop offset="0.5521" stop-color="#009600"/><stop offset="0.5714" stop-color="#00d900"/><stop offset="0.5959" stop-color="#00d900"/><stop offset="0.6151" stop-color="#000700"/><stop offset="0.6396" stop-color="#000700"/><stop offset="0.6612" stop-color="#009600"/><stop offset="0.7686" stop-color="#009600"/><stop offset="0.7925" stop-color="#005900"/><stop offset="0.8234" stop-color="#005900"/><stop offset="0.8472" stop-color="#00e100"/><stop offset="0.9875" stop-color="#00e100"/></linearGradient></defs>
<rect x="219.2" y="216.2" width="75.40" height="17.3" fill="url(#hs12)"/>
<text x="300.2" y="164.6" font-size="6.3" font-weight="bold" fill="#111" text-anchor="start" textLength="70.4" lengthAdjust="spacingAndGlyphs" stroke="#111" stroke-width="0.2">AITL survival model score</text>
<text x="302.6" y="180.3" font-size="6.3" font-weight="bold" fill="#111" text-anchor="start" textLength="66.6" lengthAdjust="spacingAndGlyphs" stroke="#111" stroke-width="0.2">TP53 upregulated target</text>
<text x="302.6" y="188.2" font-size="6.3" font-weight="bold" fill="#111" text-anchor="start" textLength="25.8" lengthAdjust="spacingAndGlyphs" stroke="#111" stroke-width="0.2">signature</text>
<text x="303.0" y="205.3" font-size="6.3" font-weight="bold" fill="#111" text-anchor="start" textLength="55.8" lengthAdjust="spacingAndGlyphs" stroke="#111" stroke-width="0.2">Monocytic signature</text>
<text x="303.1" y="229.0" font-size="6.3" font-weight="bold" fill="#111" text-anchor="start" textLength="43.4" lengthAdjust="spacingAndGlyphs" stroke="#111" stroke-width="0.2">B-cells signature</text>
<line x1="378" y1="163" x2="378" y2="175.7" stroke="#000" stroke-width="1.5"/>
<polygon points="378,160.2 375.5,165.6 380.5,165.6" fill="#000"/>
<line x1="378" y1="207.3" x2="378" y2="217" stroke="#000" stroke-width="1.5"/>
<polygon points="378,220.1 375.5,214.6 380.5,214.6" fill="#000"/>
<text x="0" y="0" font-size="6.8" font-weight="bold" fill="#111" textLength="17" lengthAdjust="spacingAndGlyphs" transform="translate(376.0,182.1) rotate(90)">mean</text>
<text x="0.6" y="258.1" font-size="10.8" font-weight="bold" fill="#000" text-anchor="start" textLength="7.6" lengthAdjust="spacingAndGlyphs" >C</text>
<text x="229.8" y="253.9" font-size="10.8" font-weight="bold" fill="#000" text-anchor="start" textLength="8.4" lengthAdjust="spacingAndGlyphs" >D</text>
<defs><filter id="fHEc" x="0" y="0" width="100%" height="100%" color-interpolation-filters="sRGB">
 <feTurbulence type="fractalNoise" baseFrequency="0.6" numOctaves="3" seed="3" result="t1"/>
 <feColorMatrix in="t1" type="matrix" values="1 0 0 0 0  1 0 0 0 0  1 0 0 0 0  0 0 0 0 1" result="a1"/>
 <feTurbulence type="fractalNoise" baseFrequency="0.06" numOctaves="2" seed="53" result="t2"/>
 <feColorMatrix in="t2" type="matrix" values="1 0 0 0 0  1 0 0 0 0  1 0 0 0 0  0 0 0 0 1" result="a2"/>
 <feComposite in="a1" in2="a2" operator="arithmetic" k1="0" k2="0.85" k3="0.15" k4="0"/>
 <feColorMatrix type="matrix" values="2.4 0 0 0 -0.7  2.4 0 0 0 -0.7  2.4 0 0 0 -0.7  0 0 0 0 1"/>
 <feComponentTransfer>
  <feFuncR type="table" tableValues="0.337 0.478 0.588 0.682 0.776 0.894"/>
  <feFuncG type="table" tableValues="0.055 0.141 0.220 0.314 0.455 0.675"/>
  <feFuncB type="table" tableValues="0.345 0.471 0.557 0.635 0.737 0.863"/>
 </feComponentTransfer><feGaussianBlur stdDeviation="0.25"/>
</filter></defs>
<defs><filter id="fHEc2" x="0" y="0" width="100%" height="100%" color-interpolation-filters="sRGB">
 <feTurbulence type="fractalNoise" baseFrequency="0.6" numOctaves="3" seed="4" result="t1"/>
 <feColorMatrix in="t1" type="matrix" values="1 0 0 0 0  1 0 0 0 0  1 0 0 0 0  0 0 0 0 1" result="a1"/>
 <feTurbulence type="fractalNoise" baseFrequency="0.06" numOctaves="2" seed="54" result="t2"/>
 <feColorMatrix in="t2" type="matrix" values="1 0 0 0 0  1 0 0 0 0  1 0 0 0 0  0 0 0 0 1" result="a2"/>
 <feComposite in="a1" in2="a2" operator="arithmetic" k1="0" k2="0.85" k3="0.15" k4="0"/>
 <feColorMatrix type="matrix" values="2.4 0 0 0 -0.7  2.4 0 0 0 -0.7  2.4 0 0 0 -0.7  0 0 0 0 1"/>
 <feComponentTransfer>
  <feFuncR type="table" tableValues="0.227 0.337 0.431 0.525 0.620 0.753"/>
  <feFuncG type="table" tableValues="0.031 0.086 0.157 0.227 0.329 0.518"/>
  <feFuncB type="table" tableValues="0.282 0.408 0.494 0.573 0.651 0.769"/>
 </feComponentTransfer><feGaussianBlur stdDeviation="0.25"/>
</filter></defs>
<defs><filter id="fCD3c" x="0" y="0" width="100%" height="100%" color-interpolation-filters="sRGB">
 <feTurbulence type="fractalNoise" baseFrequency="0.55" numOctaves="3" seed="7" result="t1"/>
 <feColorMatrix in="t1" type="matrix" values="1 0 0 0 0  1 0 0 0 0  1 0 0 0 0  0 0 0 0 1" result="a1"/>
 <feTurbulence type="fractalNoise" baseFrequency="0.07" numOctaves="2" seed="57" result="t2"/>
 <feColorMatrix in="t2" type="matrix" values="1 0 0 0 0  1 0 0 0 0  1 0 0 0 0  0 0 0 0 1" result="a2"/>
 <feComposite in="a1" in2="a2" operator="arithmetic" k1="0" k2="0.85" k3="0.15" k4="0"/>
 <feColorMatrix type="matrix" values="2.4 0 0 0 -0.7  2.4 0 0 0 -0.7  2.4 0 0 0 -0.7  0 0 0 0 1"/>
 <feComponentTransfer>
  <feFuncR type="table" tableValues="0.478 0.596 0.690 0.706 0.800 0.925"/>
  <feFuncG type="table" tableValues="0.180 0.290 0.518 0.675 0.784 0.922"/>
  <feFuncB type="table" tableValues="0.102 0.188 0.502 0.784 0.878 0.961"/>
 </feComponentTransfer><feGaussianBlur stdDeviation="0.25"/>
</filter></defs>
<defs><filter id="fBRc" x="0" y="0" width="100%" height="100%" color-interpolation-filters="sRGB">
 <feTurbulence type="fractalNoise" baseFrequency="0.6" numOctaves="3" seed="8" result="t1"/>
 <feColorMatrix in="t1" type="matrix" values="1 0 0 0 0  1 0 0 0 0  1 0 0 0 0  0 0 0 0 1" result="a1"/>
 <feTurbulence type="fractalNoise" baseFrequency="0.07" numOctaves="2" seed="58" result="t2"/>
 <feColorMatrix in="t2" type="matrix" values="1 0 0 0 0  1 0 0 0 0  1 0 0 0 0  0 0 0 0 1" result="a2"/>
 <feComposite in="a1" in2="a2" operator="arithmetic" k1="0" k2="0.9" k3="0.1" k4="0"/>
 <feColorMatrix type="matrix" values="2.4 0 0 0 -0.7  2.4 0 0 0 -0.7  2.4 0 0 0 -0.7  0 0 0 0 1"/>
 <feComponentTransfer>
  <feFuncR type="table" tableValues="0.353 0.471 0.580 0.667 0.753 0.863"/>
  <feFuncG type="table" tableValues="0.125 0.196 0.282 0.384 0.541 0.737"/>
  <feFuncB type="table" tableValues="0.078 0.125 0.204 0.314 0.502 0.722"/>
 </feComponentTransfer><feGaussianBlur stdDeviation="0.25"/>
</filter></defs>
<defs><filter id="fCD20c" x="0" y="0" width="100%" height="100%" color-interpolation-filters="sRGB">
 <feTurbulence type="fractalNoise" baseFrequency="0.6" numOctaves="3" seed="11" result="t1"/>
 <feColorMatrix in="t1" type="matrix" values="1 0 0 0 0  1 0 0 0 0  1 0 0 0 0  0 0 0 0 1" result="a1"/>
 <feTurbulence type="fractalNoise" baseFrequency="0.06" numOctaves="2" seed="61" result="t2"/>
 <feColorMatrix in="t2" type="matrix" values="1 0 0 0 0  1 0 0 0 0  1 0 0 0 0  0 0 0 0 1" result="a2"/>
 <feComposite in="a1" in2="a2" operator="arithmetic" k1="0" k2="0.85" k3="0.15" k4="0"/>
 <feColorMatrix type="matrix" values="2.3 0 0 0 -0.6499999999999999  2.3 0 0 0 -0.6499999999999999  2.3 0 0 0 -0.6499999999999999  0 0 0 0 1"/>
 <feComponentTransfer>
  <feFuncR type="table" tableValues="0.275 0.431 0.573 0.675 0.784 0.918"/>
  <feFuncG type="table" tableValues="0.235 0.408 0.549 0.659 0.776 0.914"/>
  <feFuncB type="table" tableValues="0.424 0.588 0.722 0.800 0.878 0.961"/>
 </feComponentTransfer><feGaussianBlur stdDeviation="0.25"/>
</filter></defs>
<defs><filter id="fST" x="0" y="0" width="100%" height="100%" color-interpolation-filters="sRGB">
 <feTurbulence type="fractalNoise" baseFrequency="0.6" numOctaves="3" seed="21" result="t1"/>
 <feColorMatrix in="t1" type="matrix" values="1 0 0 0 0  1 0 0 0 0  1 0 0 0 0  0 0 0 0 1" result="a1"/>
 <feTurbulence type="fractalNoise" baseFrequency="0.06" numOctaves="2" seed="71" result="t2"/>
 <feColorMatrix in="t2" type="matrix" values="1 0 0 0 0  1 0 0 0 0  1 0 0 0 0  0 0 0 0 1" result="a2"/>
 <feComposite in="a1" in2="a2" operator="arithmetic" k1="0" k2="0.9" k3="0.1" k4="0"/>
 <feColorMatrix type="matrix" values="2.4 0 0 0 -0.7  2.4 0 0 0 -0.7  2.4 0 0 0 -0.7  0 0 0 0 1"/>
 <feComponentTransfer>
  <feFuncR type="table" tableValues="0.227 0.353 0.431 0.502 0.604 0.706"/>
  <feFuncG type="table" tableValues="0.094 0.165 0.227 0.290 0.416 0.604"/>
  <feFuncB type="table" tableValues="0.125 0.188 0.251 0.314 0.471 0.675"/>
 </feComponentTransfer><feGaussianBlur stdDeviation="0.25"/>
</filter></defs>
<defs><filter id="fHEd" x="0" y="0" width="100%" height="100%" color-interpolation-filters="sRGB">
 <feTurbulence type="fractalNoise" baseFrequency="0.36" numOctaves="3" seed="5" result="t1"/>
 <feColorMatrix in="t1" type="matrix" values="1 0 0 0 0  1 0 0 0 0  1 0 0 0 0  0 0 0 0 1" result="a1"/>
 <feTurbulence type="fractalNoise" baseFrequency="0.06" numOctaves="2" seed="55" result="t2"/>
 <feColorMatrix in="t2" type="matrix" values="1 0 0 0 0  1 0 0 0 0  1 0 0 0 0  0 0 0 0 1" result="a2"/>
 <feComposite in="a1" in2="a2" operator="arithmetic" k1="0" k2="0.9" k3="0.1" k4="0"/>
 <feColorMatrix type="matrix" values="2.6 0 0 0 -0.8  2.6 0 0 0 -0.8  2.6 0 0 0 -0.8  0 0 0 0 1"/>
 <feComponentTransfer>
  <feFuncR type="table" tableValues="0.314 0.478 0.659 0.784 0.863 0.941"/>
  <feFuncG type="table" tableValues="0.094 0.157 0.220 0.314 0.439 0.627"/>
  <feFuncB type="table" tableValues="0.627 0.753 0.816 0.863 0.910 0.957"/>
 </feComponentTransfer><feGaussianBlur stdDeviation="0.25"/>
</filter></defs>
<defs><filter id="fBRd" x="0" y="0" width="100%" height="100%" color-interpolation-filters="sRGB">
 <feTurbulence type="fractalNoise" baseFrequency="0.6" numOctaves="3" seed="9" result="t1"/>
 <feColorMatrix in="t1" type="matrix" values="1 0 0 0 0  1 0 0 0 0  1 0 0 0 0  0 0 0 0 1" result="a1"/>
 <feTurbulence type="fractalNoise" baseFrequency="0.05" numOctaves="2" seed="59" result="t2"/>
 <feColorMatrix in="t2" type="matrix" values="1 0 0 0 0  1 0 0 0 0  1 0 0 0 0  0 0 0 0 1" result="a2"/>
 <feComposite in="a1" in2="a2" operator="arithmetic" k1="0" k2="0.9" k3="0.1" k4="0"/>
 <feColorMatrix type="matrix" values="2.4 0 0 0 -0.7  2.4 0 0 0 -0.7  2.4 0 0 0 -0.7  0 0 0 0 1"/>
 <feComponentTransfer>
  <feFuncR type="table" tableValues="0.353 0.494 0.612 0.706 0.784 0.894"/>
  <feFuncG type="table" tableValues="0.141 0.235 0.353 0.478 0.643 0.831"/>
  <feFuncB type="table" tableValues="0.094 0.157 0.267 0.400 0.627 0.863"/>
 </feComponentTransfer><feGaussianBlur stdDeviation="0.35"/>
</filter></defs>
<defs><filter id="fLAVd" x="0" y="0" width="100%" height="100%" color-interpolation-filters="sRGB">
 <feTurbulence type="fractalNoise" baseFrequency="0.6" numOctaves="3" seed="10" result="t1"/>
 <feColorMatrix in="t1" type="matrix" values="1 0 0 0 0  1 0 0 0 0  1 0 0 0 0  0 0 0 0 1" result="a1"/>
 <feTurbulence type="fractalNoise" baseFrequency="0.05" numOctaves="2" seed="60" result="t2"/>
 <feColorMatrix in="t2" type="matrix" values="1 0 0 0 0  1 0 0 0 0  1 0 0 0 0  0 0 0 0 1" result="a2"/>
 <feComposite in="a1" in2="a2" operator="arithmetic" k1="0" k2="0.9" k3="0.1" k4="0"/>
 <feColorMatrix type="matrix" values="2.4 0 0 0 -0.7  2.4 0 0 0 -0.7  2.4 0 0 0 -0.7  0 0 0 0 1"/>
 <feComponentTransfer>
  <feFuncR type="table" tableValues="0.478 0.604 0.643 0.729 0.824 0.925"/>
  <feFuncG type="table" tableValues="0.227 0.416 0.620 0.714 0.816 0.922"/>
  <feFuncB type="table" tableValues="0.133 0.439 0.800 0.863 0.918 0.969"/>
 </feComponentTransfer><feGaussianBlur stdDeviation="0.25"/>
</filter></defs>
<defs><filter id="fBRd2" x="0" y="0" width="100%" height="100%" color-interpolation-filters="sRGB">
 <feTurbulence type="fractalNoise" baseFrequency="0.6" numOctaves="3" seed="13" result="t1"/>
 <feColorMatrix in="t1" type="matrix" values="1 0 0 0 0  1 0 0 0 0  1 0 0 0 0  0 0 0 0 1" result="a1"/>
 <feTurbulence type="fractalNoise" baseFrequency="0.05" numOctaves="2" seed="63" result="t2"/>
 <feColorMatrix in="t2" type="matrix" values="1 0 0 0 0  1 0 0 0 0  1 0 0 0 0  0 0 0 0 1" result="a2"/>
 <feComposite in="a1" in2="a2" operator="arithmetic" k1="0" k2="0.9" k3="0.1" k4="0"/>
 <feColorMatrix type="matrix" values="2.4 0 0 0 -0.7  2.4 0 0 0 -0.7  2.4 0 0 0 -0.7  0 0 0 0 1"/>
 <feComponentTransfer>
  <feFuncR type="table" tableValues="0.353 0.494 0.612 0.706 0.784 0.894"/>
  <feFuncG type="table" tableValues="0.141 0.235 0.353 0.478 0.643 0.831"/>
  <feFuncB type="table" tableValues="0.094 0.157 0.267 0.400 0.627 0.863"/>
 </feComponentTransfer><feGaussianBlur stdDeviation="0.35"/>
</filter></defs>
<defs><filter id="fLAVd2" x="0" y="0" width="100%" height="100%" color-interpolation-filters="sRGB">
 <feTurbulence type="fractalNoise" baseFrequency="0.6" numOctaves="3" seed="14" result="t1"/>
 <feColorMatrix in="t1" type="matrix" values="1 0 0 0 0  1 0 0 0 0  1 0 0 0 0  0 0 0 0 1" result="a1"/>
 <feTurbulence type="fractalNoise" baseFrequency="0.05" numOctaves="2" seed="64" result="t2"/>
 <feColorMatrix in="t2" type="matrix" values="1 0 0 0 0  1 0 0 0 0  1 0 0 0 0  0 0 0 0 1" result="a2"/>
 <feComposite in="a1" in2="a2" operator="arithmetic" k1="0" k2="0.9" k3="0.1" k4="0"/>
 <feColorMatrix type="matrix" values="2.4 0 0 0 -0.7  2.4 0 0 0 -0.7  2.4 0 0 0 -0.7  0 0 0 0 1"/>
 <feComponentTransfer>
  <feFuncR type="table" tableValues="0.541 0.541 0.643 0.729 0.824 0.925"/>
  <feFuncG type="table" tableValues="0.290 0.518 0.620 0.714 0.816 0.922"/>
  <feFuncB type="table" tableValues="0.188 0.722 0.800 0.863 0.918 0.969"/>
 </feComponentTransfer><feGaussianBlur stdDeviation="0.25"/>
</filter></defs>
<defs><filter id="mblur" x="-50%" y="-50%" width="200%" height="200%"><feGaussianBlur stdDeviation="2.5"/></filter></defs>
<defs><clipPath id="cfHEc"><rect x="13.1" y="249.5" width="83.5" height="68.3"/></clipPath></defs>
<g clip-path="url(#cfHEc)">
<rect x="13.1" y="249.5" width="83.5" height="68.3" filter="url(#fHEc)" fill="#888"/>
<defs><filter id="mffHEc" filterUnits="userSpaceOnUse" x="13.1" y="249.5" width="83.5" height="68.3" color-interpolation-filters="sRGB">
 <feGaussianBlur in="SourceAlpha" stdDeviation="3" result="b"/>
 <feTurbulence type="fractalNoise" baseFrequency="0.15" numOctaves="2" seed="2" result="t"/>
 <feColorMatrix in="t" type="matrix" values="0 0 0 0 0  0 0 0 0 0  0 0 0 0 0  1 0 0 0 0" result="tn"/>
 <feComposite in="b" in2="tn" operator="arithmetic" k1="0" k2="1.6" k3="1.2" k4="-0.6" result="m"/>
 <feFlood flood-color="#fff"/>
 <feComposite in2="m" operator="in"/>
</filter>
<mask id="mfHEc" maskUnits="userSpaceOnUse" x="13.1" y="249.5" width="83.5" height="68.3"><g filter="url(#mffHEc)">
<rect x="13.1" y="249.5" width="83.5" height="68.3" fill="#fff" fill-opacity="0.004"/>
<ellipse cx="22" cy="275" rx="10" ry="20" fill="#fff" fill-opacity="0.5" transform="rotate(0 22 275)"/>
<ellipse cx="60" cy="268" rx="4" ry="20" fill="#fff" fill-opacity="0.6" transform="rotate(-20 60 268)"/>
<ellipse cx="85" cy="262" rx="6" ry="10" fill="#fff" fill-opacity="0.5" transform="rotate(-20 85 262)"/>
<ellipse cx="45" cy="300" rx="10" ry="6" fill="#fff" fill-opacity="0.3" transform="rotate(0 45 300)"/>
</g></mask></defs>
<rect x="13.1" y="249.5" width="83.5" height="68.3" filter="url(#fHEc2)" fill="#888" mask="url(#mfHEc)"/>
</g>
<rect x="12.6" y="304.6" width="31.2" height="13.7" fill="#fff"/>
<text x="16.9" y="313.8" font-size="6.5" font-weight="bold" fill="#000" text-anchor="start" textLength="11.9" lengthAdjust="spacingAndGlyphs" stroke="#000" stroke-width="0.3">H&amp;E</text>
<defs><clipPath id="cfCD3c"><rect x="98.2" y="249.1" width="85.0" height="67.4"/></clipPath></defs>
<g clip-path="url(#cfCD3c)">
<rect x="98.2" y="249.1" width="85.0" height="67.4" filter="url(#fCD3c)" fill="#888"/>
<defs><filter id="mffCD3c" filterUnits="userSpaceOnUse" x="98.2" y="249.1" width="85.0" height="67.4" color-interpolation-filters="sRGB">
 <feGaussianBlur in="SourceAlpha" stdDeviation="3" result="b"/>
 <feTurbulence type="fractalNoise" baseFrequency="0.15" numOctaves="2" seed="2" result="t"/>
 <feColorMatrix in="t" type="matrix" values="0 0 0 0 0  0 0 0 0 0  0 0 0 0 0  1 0 0 0 0" result="tn"/>
 <feComposite in="b" in2="tn" operator="arithmetic" k1="0" k2="1.6" k3="1.2" k4="-0.6" result="m"/>
 <feFlood flood-color="#fff"/>
 <feComposite in2="m" operator="in"/>
</filter>
<mask id="mfCD3c" maskUnits="userSpaceOnUse" x="98.2" y="249.1" width="85.0" height="67.4"><g filter="url(#mffCD3c)">
<rect x="98.2" y="249.1" width="85.0" height="67.4" fill="#fff" fill-opacity="0.004"/>
<ellipse cx="107" cy="256" rx="7" ry="6" fill="#fff" fill-opacity="0.9" transform="rotate(0 107 256)"/>
<ellipse cx="104" cy="292" rx="6" ry="12" fill="#fff" fill-opacity="0.9" transform="rotate(0 104 292)"/>
<ellipse cx="152" cy="278" rx="4" ry="9" fill="#fff" fill-opacity="0.9" transform="rotate(0 152 278)"/>
<ellipse cx="128" cy="305" rx="5" ry="4" fill="#fff" fill-opacity="0.6" transform="rotate(0 128 305)"/>
<ellipse cx="125" cy="262" rx="4" ry="4" fill="#fff" fill-opacity="0.5" transform="rotate(0 125 262)"/>
<ellipse cx="175" cy="256" rx="6" ry="4" fill="#fff" fill-opacity="0.5" transform="rotate(0 175 256)"/>
</g></mask></defs>
<rect x="98.2" y="249.1" width="85.0" height="67.4" filter="url(#fBRc)" fill="#888" mask="url(#mfCD3c)"/>
</g>
<rect x="97.7" y="307.3" width="28.3" height="9.7" fill="#fff"/>
<text x="104.4" y="315.6" font-size="6.5" font-weight="bold" fill="#000" text-anchor="start" textLength="11.1" lengthAdjust="spacingAndGlyphs" stroke="#000" stroke-width="0.3">CD3</text>
<defs><clipPath id="cfCD20c"><rect x="10.6" y="320.3" width="86.7" height="66.1"/></clipPath></defs>
<g clip-path="url(#cfCD20c)">
<rect x="10.6" y="320.3" width="86.7" height="66.1" filter="url(#fCD20c)" fill="#888"/>
<defs><filter id="mffCD20c" filterUnits="userSpaceOnUse" x="10.6" y="320.3" width="86.7" height="66.1" color-interpolation-filters="sRGB">
 <feGaussianBlur in="SourceAlpha" stdDeviation="1.5" result="b"/>
 <feTurbulence type="fractalNoise" baseFrequency="0.15" numOctaves="2" seed="2" result="t"/>
 <feColorMatrix in="t" type="matrix" values="0 0 0 0 0  0 0 0 0 0  0 0 0 0 0  1 0 0 0 0" result="tn"/>
 <feComposite in="b" in2="tn" operator="arithmetic" k1="0" k2="1.6" k3="0.25" k4="-0.125" result="m"/>
 <feFlood flood-color="#fff"/>
 <feComposite in2="m" operator="in"/>
</filter>
<mask id="mfCD20c" maskUnits="userSpaceOnUse" x="10.6" y="320.3" width="86.7" height="66.1"><g filter="url(#mffCD20c)">
<rect x="10.6" y="320.3" width="86.7" height="66.1" fill="#fff" fill-opacity="0.004"/>
<ellipse cx="73" cy="353" rx="1.8" ry="9" fill="#fff" fill-opacity="0.6" transform="rotate(-40 73 353)"/>
<ellipse cx="64" cy="345" rx="1.3" ry="4" fill="#fff" fill-opacity="0.4" transform="rotate(-40 64 345)"/>
<ellipse cx="80" cy="362" rx="1.3" ry="4" fill="#fff" fill-opacity="0.45" transform="rotate(-40 80 362)"/>
<ellipse cx="30" cy="328" rx="6" ry="3" fill="#fff" fill-opacity="0.25" transform="rotate(0 30 328)"/>
</g></mask></defs>
<rect x="10.6" y="320.3" width="86.7" height="66.1" filter="url(#fST)" fill="#888" mask="url(#mfCD20c)"/>
</g>
<rect x="10.1" y="372.2" width="33.3" height="14.7" fill="#fff"/>
<text x="13.8" y="382.7" font-size="6.5" font-weight="bold" fill="#000" text-anchor="start" textLength="14.8" lengthAdjust="spacingAndGlyphs" stroke="#000" stroke-width="0.3">CD20</text>
<defs><clipPath id="cfHEd"><rect x="247.0" y="249.3" width="85.8" height="66.8"/></clipPath></defs>
<g clip-path="url(#cfHEd)">
<rect x="247.0" y="249.3" width="85.8" height="66.8" filter="url(#fHEd)" fill="#888"/>
</g>
<rect x="246.5" y="303.8" width="33.7" height="12.8" fill="#fff"/>
<text x="252.8" y="311.6" font-size="6.5" font-weight="bold" fill="#000" text-anchor="start" textLength="11.6" lengthAdjust="spacingAndGlyphs" stroke="#000" stroke-width="0.3">H&amp;E</text>
<defs><clipPath id="cfBRd"><rect x="337.4" y="249.3" width="84.7" height="68.4"/></clipPath></defs>
<g clip-path="url(#cfBRd)">
<rect x="337.4" y="249.3" width="84.7" height="68.4" filter="url(#fBRd)" fill="#888"/>
<defs><filter id="mffBRd" filterUnits="userSpaceOnUse" x="337.4" y="249.3" width="84.7" height="68.4" color-interpolation-filters="sRGB">
 <feGaussianBlur in="SourceAlpha" stdDeviation="2.8" result="b"/>
 <feTurbulence type="fractalNoise" baseFrequency="0.22" numOctaves="2" seed="2" result="t"/>
 <feColorMatrix in="t" type="matrix" values="0 0 0 0 0  0 0 0 0 0  0 0 0 0 0  1 0 0 0 0" result="tn"/>
 <feComposite in="b" in2="tn" operator="arithmetic" k1="0" k2="1.8" k3="1.5" k4="-0.75" result="m"/>
 <feFlood flood-color="#fff"/>
 <feComposite in2="m" operator="in"/>
</filter>
<mask id="mfBRd" maskUnits="userSpaceOnUse" x="337.4" y="249.3" width="84.7" height="68.4"><g filter="url(#mffBRd)">
<rect x="337.4" y="249.3" width="84.7" height="68.4" fill="#fff" fill-opacity="0.004"/>
<ellipse cx="352" cy="257" rx="6" ry="5" fill="#fff" fill-opacity="0.75" transform="rotate(0 352 257)"/>
<ellipse cx="372" cy="270" rx="9" ry="6" fill="#fff" fill-opacity="0.75" transform="rotate(40 372 270)"/>
<ellipse cx="387" cy="286" rx="10" ry="6" fill="#fff" fill-opacity="0.8" transform="rotate(40 387 286)"/>
<ellipse cx="399" cy="301" rx="7" ry="6" fill="#fff" fill-opacity="0.75" transform="rotate(0 399 301)"/>
<ellipse cx="411" cy="307" rx="9" ry="6" fill="#fff" fill-opacity="0.75" transform="rotate(0 411 307)"/>
<ellipse cx="397" cy="262" rx="5" ry="4" fill="#fff" fill-opacity="0.6" transform="rotate(0 397 262)"/>
<ellipse cx="355" cy="287" rx="5" ry="5" fill="#fff" fill-opacity="0.7" transform="rotate(0 355 287)"/>
<ellipse cx="414" cy="291" rx="5" ry="6" fill="#fff" fill-opacity="0.6" transform="rotate(0 414 291)"/>
<ellipse cx="378" cy="256" rx="5" ry="4" fill="#fff" fill-opacity="0.6" transform="rotate(0 378 256)"/>
</g></mask></defs>
<rect x="337.4" y="249.3" width="84.7" height="68.4" filter="url(#fLAVd)" fill="#888" mask="url(#mfBRd)"/>
</g>
<rect x="336.9" y="306.1" width="30.7" height="12.1" fill="#fff"/>
<text x="342.0" y="314.0" font-size="6.5" font-weight="bold" fill="#000" text-anchor="start" textLength="10.5" lengthAdjust="spacingAndGlyphs" stroke="#000" stroke-width="0.3">CD3</text>
<defs><clipPath id="cfLAVd2"><rect x="247.3" y="321.9" width="86.1" height="65.6"/></clipPath></defs>
<g clip-path="url(#cfLAVd2)">
<rect x="247.3" y="321.9" width="86.1" height="65.6" filter="url(#fLAVd2)" fill="#888"/>
<defs><filter id="mffLAVd2" filterUnits="userSpaceOnUse" x="247.3" y="321.9" width="86.1" height="65.6" color-interpolation-filters="sRGB">
 <feGaussianBlur in="SourceAlpha" stdDeviation="3.5" result="b"/>
 <feTurbulence type="fractalNoise" baseFrequency="0.22" numOctaves="2" seed="2" result="t"/>
 <feColorMatrix in="t" type="matrix" values="0 0 0 0 0  0 0 0 0 0  0 0 0 0 0  1 0 0 0 0" result="tn"/>
 <feComposite in="b" in2="tn" operator="arithmetic" k1="0" k2="1.8" k3="1.8" k4="-0.9" result="m"/>
 <feFlood flood-color="#fff"/>
 <feComposite in2="m" operator="in"/>
</filter>
<mask id="mfLAVd2" maskUnits="userSpaceOnUse" x="247.3" y="321.9" width="86.1" height="65.6"><g filter="url(#mffLAVd2)">
<rect x="247.3" y="321.9" width="86.1" height="65.6" fill="#fff" fill-opacity="0.004"/>
<ellipse cx="302" cy="362" rx="15" ry="26" fill="#fff" fill-opacity="0.65" transform="rotate(0 302 362)"/>
<ellipse cx="251" cy="352" rx="5" ry="18" fill="#fff" fill-opacity="0.65" transform="rotate(0 251 352)"/>
<ellipse cx="262" cy="328" rx="12" ry="5" fill="#fff" fill-opacity="0.5" transform="rotate(0 262 328)"/>
<ellipse cx="300" cy="327" rx="18" ry="4" fill="#fff" fill-opacity="0.45" transform="rotate(0 300 327)"/>
<ellipse cx="315" cy="382" rx="10" ry="7" fill="#fff" fill-opacity="0.5" transform="rotate(0 315 382)"/>
<ellipse cx="275" cy="345" rx="3" ry="5" fill="#fff" fill-opacity="0.4" transform="rotate(0 275 345)"/>
<ellipse cx="290" cy="340" rx="4" ry="8" fill="#fff" fill-opacity="0.4" transform="rotate(0 290 340)"/>
</g></mask></defs>
<rect x="247.3" y="321.9" width="86.1" height="65.6" filter="url(#fBRd2)" fill="#888" mask="url(#mfLAVd2)"/>
</g>
<rect x="246.8" y="373.5" width="33.0" height="14.5" fill="#fff"/>
<text x="253.0" y="382.9" font-size="6.5" font-weight="bold" fill="#000" text-anchor="start" textLength="14.2" lengthAdjust="spacingAndGlyphs" stroke="#000" stroke-width="0.3">CD20</text>
</svg>
</body></html>
